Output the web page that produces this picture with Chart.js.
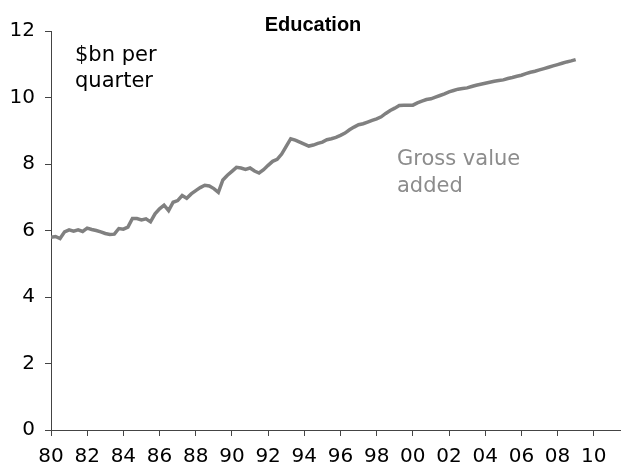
<!DOCTYPE html>
<html>
<head>
<meta charset="utf-8">
<script src="https://cdn.jsdelivr.net/npm/chart.js@4/dist/chart.umd.min.js"></script>
<style>
  html, body { margin: 0; padding: 0; background: #fff; }
  #wrap { width: 624px; height: 474px; }
</style>
</head>
<body>
<div id="wrap"><canvas id="edu-chart" width="624" height="474"></canvas></div>
<script>
// Education, gross value added, $bn per quarter, 1980 Q1 onwards
const firstYear = 1980;
const gvaValues = [
  5.80, 5.82, 5.76, 5.96, 6.02, 5.98, 6.02, 5.97, 6.07, 6.03,
  6.00, 5.96, 5.91, 5.88, 5.89, 6.06, 6.04, 6.10, 6.36, 6.36,
  6.32, 6.35, 6.26, 6.50, 6.65, 6.76, 6.60, 6.85, 6.90, 7.05,
  6.97, 7.10, 7.20, 7.29, 7.36, 7.34, 7.26, 7.15, 7.52, 7.66,
  7.78, 7.90, 7.88, 7.84, 7.88, 7.79, 7.73, 7.83, 7.96, 8.08,
  8.14, 8.30, 8.53, 8.76, 8.72, 8.66, 8.60, 8.54, 8.57, 8.62,
  8.66, 8.73, 8.76, 8.80, 8.86, 8.93, 9.03, 9.11, 9.18, 9.21,
  9.26, 9.31, 9.36, 9.42, 9.52, 9.61, 9.68, 9.76, 9.77, 9.77,
  9.77, 9.84, 9.89, 9.94, 9.96, 10.01, 10.06, 10.11, 10.17, 10.21,
  10.25, 10.27, 10.29, 10.33, 10.37, 10.40, 10.43, 10.46, 10.49, 10.51,
  10.53, 10.57, 10.60, 10.64, 10.67, 10.72, 10.76, 10.79, 10.83, 10.87,
  10.91, 10.95, 10.99, 11.03, 11.07, 11.10, 11.14
];
const tickYears = [1980, 1982, 1984, 1986, 1988, 1990, 1992, 1994, 1996, 1998, 2000, 2002, 2004, 2006, 2008, 2010];
const tickLabels = ['80', '82', '84', '86', '88', '90', '92', '94', '96', '98', '00', '02', '04', '06', '08', '10'];
const yTicks = [0, 2, 4, 6, 8, 10, 12];

// quarterly points: x = year + quarter/4
const points = gvaValues.map((v, i) => ({ x: firstYear + i / 4, y: v }));

const axisColor = '#444444';
const tickFont = { family: '"DejaVu Sans", Verdana, sans-serif', size: 20 };

// title and the two text notes
const notes = {
  id: 'notes',
  afterDraw(chart) {
    const ctx = chart.ctx;
    ctx.save();
    ctx.textBaseline = 'alphabetic';
    ctx.fillStyle = '#000';
    ctx.font = 'bold 20px "Liberation Sans", Arial, sans-serif';
    ctx.textAlign = 'center';
    ctx.fillText('Education', 313, 31);

    ctx.textAlign = 'left';
    ctx.font = '21px "DejaVu Sans", Verdana, sans-serif';
    ctx.fillText('$bn per', 75, 61);
    ctx.fillText('quarter', 75, 87);

    ctx.fillStyle = '#8c8c8c';
    ctx.fillText('Gross value', 397, 165);
    ctx.fillText('added', 397, 192);
    ctx.restore();
  }
};

new Chart(document.getElementById('edu-chart').getContext('2d'), {
  type: 'line',
  data: {
    datasets: [{
      label: 'Gross value added',
      data: points,
      borderColor: '#808080',
      borderWidth: 3.5,
      pointRadius: 0,
      tension: 0,
      fill: false,
    }],
  },
  options: {
    responsive: false,
    animation: false,
    layout: { padding: { top: 31, right: 4, left: 0, bottom: 0 } },
    plugins: {
      legend: { display: false },
      title: { display: false },
      tooltip: { enabled: false },
    },
    scales: {
      x: {
        type: 'linear',
        min: 1980,
        max: 2011.45,
        afterBuildTicks: (scale) => { scale.ticks = tickYears.map(v => ({ value: v })); },
        afterFit: (scale) => { scale.height = 44; },
        ticks: {
          color: '#000',
          font: tickFont,
          padding: 9,
          maxRotation: 0,
          autoSkip: false,
          callback: (value, index) => tickLabels[index],
        },
        grid: { drawOnChartArea: false, drawTicks: true, tickLength: 6, color: axisColor },
        border: { display: true, color: axisColor, width: 1 },
      },
      y: {
        min: 0,
        max: 12,
        afterBuildTicks: (scale) => { scale.ticks = yTicks.map(v => ({ value: v })); },
        afterFit: (scale) => { scale.width = 51; },
        ticks: {
          color: '#000',
          font: tickFont,
          padding: 10,
        },
        grid: { drawOnChartArea: false, drawTicks: true, tickLength: 6, color: axisColor },
        border: { display: true, color: axisColor, width: 1 },
      },
    },
  },
  plugins: [notes],
});
</script>
</body>
</html>
